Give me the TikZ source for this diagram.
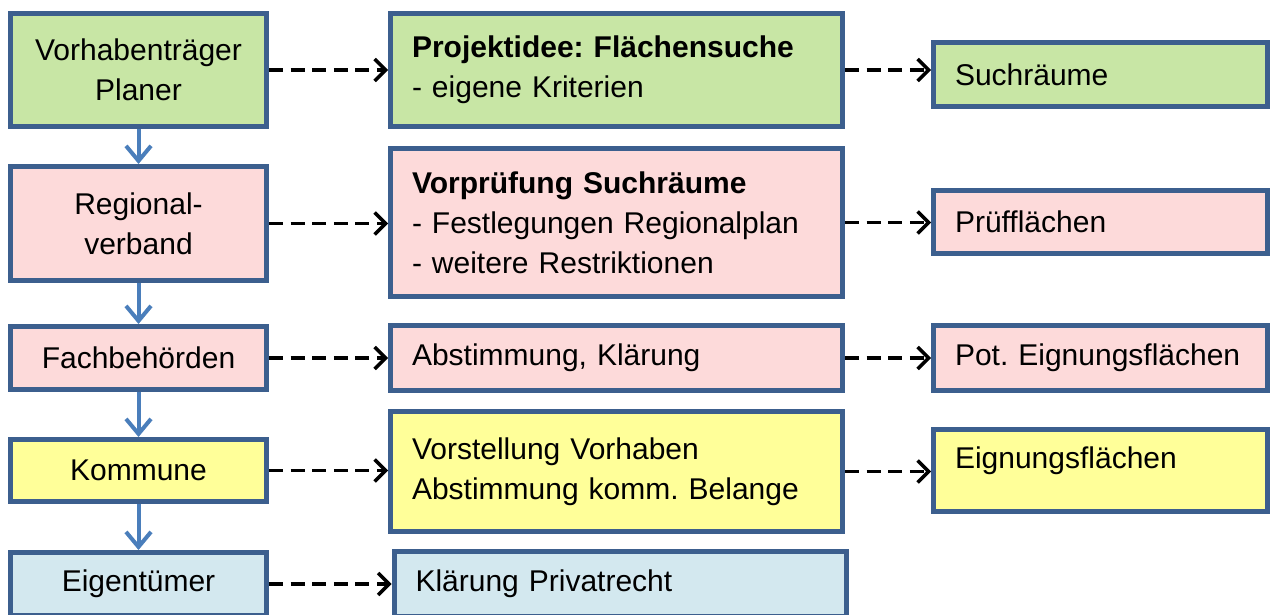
\documentclass[tikz,border=0pt]{standalone}
\usepackage{fontspec}
\setmainfont{Liberation Sans}
\usetikzlibrary{arrows.meta}
\definecolor{rahmen}{HTML}{3C5F8E}
\definecolor{pfeilblau}{HTML}{4A7EBB}
\definecolor{gruen}{HTML}{C8E6A5}
\definecolor{rosa}{HTML}{FDDADA}
\definecolor{gelb}{HTML}{FFFF99}
\definecolor{hellblau}{HTML}{D3E8EF}
\frenchspacing
\begin{document}
\begin{tikzpicture}[x=0.5pt, y=-0.5pt, font=\fontsize{15}{20}\selectfont,
  box/.style={draw=rahmen, line width=2.5pt, inner xsep=10.75pt},
  links/.style={box, align=center, minimum width=128pt},
  mitte/.style={box, align=left, text width=204.5pt},
  rechts/.style={box, align=left, text width=145.5pt},
  fluss/.style={draw=pfeilblau, line width=2pt, -{Straight Barb[length=7.5pt,width=12.5pt]}},
  verweis/.style={line width=1.75pt, dash pattern=on 7pt off 3.8pt, -{Straight Barb[length=5.5pt,width=11pt]}}]
\useasboundingbox (0,0) rectangle (1271,615);
% Beteiligte
\node[links, fill=gruen, minimum height=56.5pt] (vt) at (138.5,70) {Vorhabenträger\\Planer};
\node[links, fill=rosa, minimum height=57pt] (rv) at (138.5,223.5) {Regional-\\verband};
\node[links, fill=rosa, minimum height=31.5pt] (fb) at (138.5,358) {Fachbehörden};
\node[links, fill=gelb, minimum height=31pt] (ko) at (138.5,470.5) {Kommune};
\node[links, fill=hellblau, minimum height=31.5pt] (et) at (138.5,584) {Eigentümer};
% Schritte
\node[mitte, fill=gruen, minimum height=56.5pt] (pi) at (616.5,70) {\textbf{Projektidee: Flächensuche}\\- eigene Kriterien};
\node[mitte, fill=rosa, minimum height=74pt] (vp) at (616.5,222.5) {\textbf{Vorprüfung Suchräume}\\- Festlegungen Regionalplan\\- weitere Restriktionen};
\node[mitte, fill=rosa, minimum height=32.5pt] (ak) at (616.5,358) {Abstimmung, Klärung};
\node[mitte, fill=gelb, minimum height=60pt] (vv) at (616.5,471.5) {Vorstellung Vorhaben\\Abstimmung komm. Belange};
\node[mitte, fill=hellblau, minimum height=32.5pt] (kp) at (620,584) {Klärung Privatrecht};
% Ergebnisse
\node[rechts, fill=gruen, minimum height=32pt] (sr) at (1100.5,74.5) {Suchräume};
\node[rechts, fill=rosa, minimum height=31.5pt] (pf) at (1100.5,222) {Prüfflächen};
\node[rechts, fill=rosa, minimum height=32.5pt] (pe) at (1100.5,358) {Pot. Eignungsflächen};
\node[rechts, fill=gelb, minimum height=41pt, text depth=13pt] (ef) at (1100.5,470.5) {Eignungsflächen};
\foreach \a/\b in {vt/rv, rv/fb, fb/ko, ko/et}
  \draw[fluss] (\a) -- (\b);
\foreach \a/\b in {vt/pi, rv/vp, fb/ak, ko/vv, et/kp, pi/sr, vp/pf, ak/pe, vv/ef}
  \draw[verweis] (\a.east) -- (\a.east -| \b.west);
\end{tikzpicture}
\end{document}
